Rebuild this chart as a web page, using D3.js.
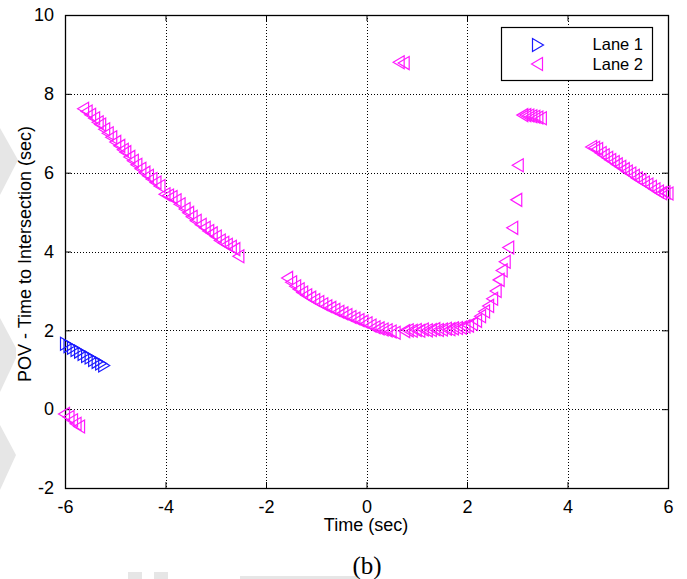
<!DOCTYPE html>
<html>
<head>
<meta charset="utf-8">
<script src="https://cdn.jsdelivr.net/npm/d3@7"></script>
<style>
  html, body { margin: 0; padding: 0; background: #fff; }
  svg { display: block; }
</style>
</head>
<body>
<svg id="chart" width="687" height="579"></svg>
<script>
// ---- data ----
const xTicks = [-6, -4, -2, 0, 2, 4, 6];
const yTicks = [-2, 0, 2, 4, 6, 8, 10];
const seriesNames = ["Lane 1", "Lane 2"];

const lane1X = [-5.98, -5.91, -5.84, -5.77, -5.70, -5.63, -5.56, -5.49, -5.42, -5.35, -5.28, -5.22];
const lane1Y = [1.66, 1.60, 1.56, 1.50, 1.46, 1.40, 1.35, 1.31, 1.25, 1.20, 1.16, 1.11];

const lane2X = [
  -6.02, -5.93, -5.86, -5.79, -5.72,
  -5.64, -5.57, -5.50, -5.42, -5.35, -5.30, -5.22, -5.15, -5.08, -5.00, -4.92, -4.85, -4.80, -4.72,
  -4.65, -4.58, -4.50, -4.42, -4.35, -4.28, -4.20, -4.12, -4.02, -3.95, -3.88, -3.80, -3.72, -3.62,
  -3.55, -3.48, -3.40, -3.30, -3.22, -3.15, -3.08, -3.00, -2.92, -2.85, -2.78, -2.70, -2.63, -2.55,
  -1.58, -1.50, -1.42, -1.35, -1.28, -1.20, -1.12, -1.04, -0.96, -0.88, -0.80, -0.72, -0.64, -0.56,
  -0.48, -0.40, -0.32, -0.24, -0.16, -0.08, 0.00, 0.08, 0.16, 0.24, 0.32, 0.40, 0.48, 0.56,
  0.75, 0.82, 0.90, 0.98, 1.05, 1.12, 1.20, 1.28, 1.35, 1.42, 1.50, 1.58, 1.65, 1.72, 1.80, 1.88, 1.95, 2.02,
  2.10, 2.18, 2.26, 2.34, 2.42, 2.50, 2.57, 2.63, 2.69, 2.75, 2.82, 2.90, 2.98, 3.01,
  3.10, 3.16, 3.22, 3.28, 3.34, 3.40, 3.47,
  0.64, 0.74,
  4.47, 4.53, 4.59, 4.66, 4.72, 4.79, 4.85, 4.92, 4.98, 5.05, 5.12, 5.18, 5.25, 5.32, 5.38, 5.45,
  5.52, 5.59, 5.66, 5.73, 5.80, 5.86, 5.93, 5.99
];
const lane2Y = [
  -0.12, -0.20, -0.28, -0.37, -0.44,
  7.62, 7.55, 7.47, 7.38, 7.28, 7.22, 7.10, 7.00, 6.90, 6.78, 6.68, 6.58, 6.52, 6.40,
  6.30, 6.20, 6.10, 6.00, 5.92, 5.84, 5.75, 5.66, 5.45, 5.42, 5.38, 5.30, 5.20, 5.08,
  4.98, 4.88, 4.78, 4.68, 4.60, 4.52, 4.46, 4.38, 4.28, 4.22, 4.17, 4.12, 4.06, 3.88,
  3.33, 3.22, 3.12, 3.04, 2.96, 2.89, 2.83, 2.77, 2.72, 2.66, 2.61, 2.57, 2.52, 2.47,
  2.43, 2.39, 2.34, 2.30, 2.26, 2.22, 2.18, 2.12, 2.08, 2.05, 2.02, 2.00, 1.97, 1.94,
  1.98, 2.00, 1.99, 2.01, 1.99, 2.02, 2.00, 2.01, 2.03, 2.01, 2.02, 2.04, 2.03, 2.05, 2.06, 2.07, 2.10, 2.12,
  2.16, 2.24, 2.36, 2.48, 2.62, 2.80, 3.00, 3.28, 3.52, 3.74, 4.10, 4.60, 5.31, 6.19,
  7.46, 7.46, 7.45, 7.43, 7.42, 7.40, 7.38,
  8.80, 8.78,
  6.65, 6.63, 6.60, 6.50, 6.44, 6.38, 6.32, 6.27, 6.21, 6.15, 6.09, 6.03, 5.98, 5.92, 5.86, 5.81,
  5.75, 5.70, 5.64, 5.58, 5.52, 5.48, 5.50, 5.47
];

const xLabel = "Time (sec)";
const yLabel = "POV - Time to Intersection (sec)";
const caption = "(b)";

// ---- drawing ----
const SANS = "'Liberation Sans', Arial, sans-serif";
const SERIF = "'Liberation Serif', 'Times New Roman', serif";
const svg = d3.select("#chart");
const L = 65, R = 668, T = 15, B = 488;
const x = d3.scaleLinear().domain([-6, 6]).range([L, R]);
const y = d3.scaleLinear().domain([-2, 10]).range([B, T]);

const colors = ["#1a1aff", "#ff19ff"];
const fmt = d => String(d);  // plain hyphen-minus like the original

// faint watermark shapes
const wm = svg.append("g").attr("fill", "#e6e6e6");
wm.append("path").attr("d", "M0,128 L18,160 L0,195 Z");
wm.append("path").attr("d", "M0,318 L16,348 L16,358 L0,392 Z");
wm.append("path").attr("d", "M0,425 L16,455 L0,490 Z");
wm.append("rect").attr("x", 240).attr("y", 576).attr("width", 118).attr("height", 3);
wm.append("rect").attr("x", 128).attr("y", 572).attr("width", 14).attr("height", 7);
wm.append("rect").attr("x", 154).attr("y", 572).attr("width", 14).attr("height", 7);

// grid
const grid = svg.append("g").attr("stroke", "#000").attr("stroke-width", 1)
  .attr("stroke-dasharray", "1,2").attr("shape-rendering", "crispEdges");
xTicks.slice(1, -1).forEach(v => {
  grid.append("line").attr("x1", Math.round(x(v)) + 0.5).attr("x2", Math.round(x(v)) + 0.5)
    .attr("y1", T).attr("y2", B);
});
yTicks.slice(1, -1).forEach(v => {
  grid.append("line").attr("y1", Math.round(y(v)) + 0.5).attr("y2", Math.round(y(v)) + 0.5)
    .attr("x1", L).attr("x2", R);
});

// axes with inward ticks
const xAxisB = d3.axisBottom(x).tickValues(xTicks).tickSizeInner(-6).tickSizeOuter(0).tickPadding(12).tickFormat(fmt);
const xAxisT = d3.axisTop(x).tickValues(xTicks).tickSizeInner(-6).tickSizeOuter(0).tickFormat("");
const yAxisL = d3.axisLeft(y).tickValues(yTicks).tickSizeInner(-6).tickSizeOuter(0).tickPadding(11).tickFormat(fmt);
const yAxisR = d3.axisRight(y).tickValues(yTicks).tickSizeInner(-6).tickSizeOuter(0).tickFormat("");

function styleAxis(g) {
  g.select(".domain").remove();
  g.selectAll("line").attr("stroke", "#000");
  g.selectAll("text").attr("font-size", 18).attr("fill", "#000").attr("font-family", SANS);
}
svg.append("g").attr("transform", `translate(0,${B})`).call(xAxisB).call(styleAxis);
svg.append("g").attr("transform", `translate(0,${T})`).call(xAxisT).call(styleAxis);
svg.append("g").attr("transform", `translate(${L},0)`).call(yAxisL).call(styleAxis);
svg.append("g").attr("transform", `translate(${R},0)`).call(yAxisR).call(styleAxis);

// box
svg.append("rect").attr("x", L + 0.5).attr("y", T + 0.5).attr("width", R - L).attr("height", B - T)
  .attr("fill", "none").attr("stroke", "#000").attr("stroke-width", 1.3);

// markers
const w = 11, h = 13;
const triRight = (cx, cy) => `M${cx + w / 2},${cy} L${cx - w / 2},${cy - h / 2} L${cx - w / 2},${cy + h / 2} Z`;
const triLeft = (cx, cy) => `M${cx - w / 2},${cy} L${cx + w / 2},${cy - h / 2} L${cx + w / 2},${cy + h / 2} Z`;

const lane1 = lane1X.map((v, i) => ({ x: v, y: lane1Y[i] }));
const lane2 = lane2X.map((v, i) => ({ x: v, y: lane2Y[i] }));

svg.append("g").selectAll("path").data(lane1).join("path")
  .attr("d", d => triRight(x(d.x), y(d.y)))
  .attr("fill", "none").attr("stroke", colors[0]).attr("stroke-width", 1.2);
svg.append("g").selectAll("path").data(lane2).join("path")
  .attr("d", d => triLeft(x(d.x), y(d.y)))
  .attr("fill", "none").attr("stroke", colors[1]).attr("stroke-width", 1.2);

// legend
const lg = svg.append("g");
lg.append("rect").attr("x", 501.5).attr("y", 27.5).attr("width", 151).attr("height", 53)
  .attr("fill", "#fff").attr("stroke", "#000").attr("stroke-width", 1.2);
lg.append("path").attr("d", triRight(538, 45)).attr("fill", "none").attr("stroke", colors[0]).attr("stroke-width", 1.2);
lg.append("path").attr("d", triLeft(537, 64)).attr("fill", "none").attr("stroke", colors[1]).attr("stroke-width", 1.2);
lg.append("text").attr("x", 643).attr("y", 50).attr("text-anchor", "end").attr("font-family", SANS).attr("font-size", 16.5).text(seriesNames[0]);
lg.append("text").attr("x", 643).attr("y", 70).attr("text-anchor", "end").attr("font-family", SANS).attr("font-size", 16.5).text(seriesNames[1]);

// axis titles
svg.append("text").attr("x", 366).attr("y", 531).attr("text-anchor", "middle")
  .attr("font-family", SANS).attr("font-size", 18).text(xLabel);
svg.append("text").attr("transform", "translate(31,254) rotate(-90)").attr("text-anchor", "middle")
  .attr("font-family", SANS).attr("font-size", 18).text(yLabel);
svg.append("text").attr("x", 367).attr("y", 574).attr("text-anchor", "middle")
  .attr("font-family", SERIF).attr("font-size", 25).text(caption);
</script>
</body>
</html>
